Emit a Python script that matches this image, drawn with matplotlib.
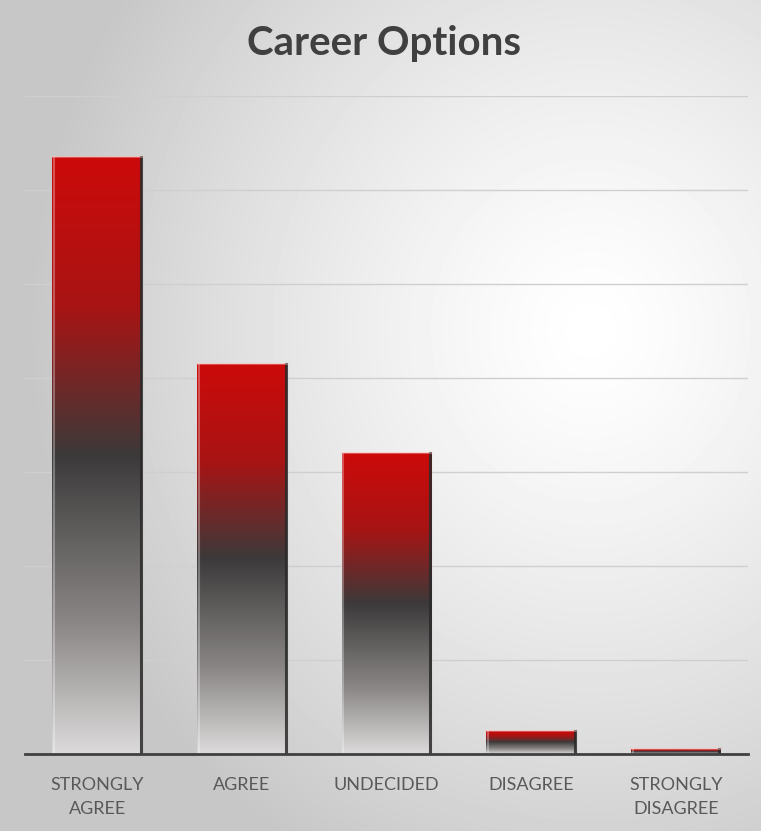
import matplotlib

matplotlib.use("Agg")
import matplotlib.pyplot as plt
import numpy as np
from matplotlib.colors import LinearSegmentedColormap

categories = ["STRONGLY\nAGREE", "AGREE", "UNDECIDED", "DISAGREE", "STRONGLY\nDISAGREE"]
responses = [127, 83, 64, 5, 1]
grid_step = 20
y_max = 140

# red top -> charcoal middle -> pale grey bottom
bar_cmap = LinearSegmentedColormap.from_list(
    "bar", [(0.0, "#cc0a0a"), (0.25, "#a81414"), (0.5, "#3c3a3a"), (0.78, "#8a8686"), (1.0, "#dcdada")]
)

fig = plt.figure(figsize=(7.61, 8.31), dpi=100)

# radial background, bright toward the right-middle
bg = fig.add_axes([0, 0, 1, 1], zorder=-10)
yy, xx = np.mgrid[0:831, 0:761]
r = np.hypot((xx - 590) / 520.0, (yy - 330) / 560.0)
shade = np.clip(1.0 - 0.20 * r ** 1.3, 0.78, 1.0)
bg.imshow(shade, cmap="gray", vmin=0, vmax=1, aspect="auto", extent=(0, 1, 0, 1))
bg.set_axis_off()

ax = fig.add_axes([25 / 761, 77 / 831, 723 / 761, 658 / 831])
ax.patch.set_alpha(0)
x = np.arange(len(categories))
bars = ax.bar(x, responses, width=0.62, color="none", zorder=3)

grad = np.linspace(0, 1, 256).reshape(-1, 1)
for rect in bars:
    x0, y0 = rect.get_x(), rect.get_y()
    w, h = rect.get_width(), rect.get_height()
    im = ax.imshow(grad, cmap=bar_cmap, aspect="auto", extent=(x0, x0 + w, y0, y0 + h),
                   origin="upper", zorder=3)
    im.set_clip_path(rect)
    # bevel: soft highlight on left, shadow on right
    ax.plot([x0 + 0.012, x0 + 0.012], [y0, y0 + h], color="white", alpha=0.3, lw=1.5, zorder=4)
    ax.plot([x0 + w - 0.008, x0 + w - 0.008], [y0, y0 + h], color="#2a2a2a", alpha=0.85, lw=2.2, zorder=4)
    ax.plot([x0, x0 + w], [y0 + h, y0 + h], color="#ffb0b0", alpha=0.5, lw=1.2, zorder=4)

ax.set_xlim(-0.5, len(categories) - 0.5)
ax.set_ylim(0, y_max)
ax.set_yticks(np.arange(grid_step, y_max + 1, grid_step))
ax.yaxis.grid(True, color="#cfcfcf", lw=1)
ax.set_axisbelow(True)
ax.tick_params(axis="y", left=False, labelleft=False)
ax.tick_params(axis="x", bottom=False, pad=13)
ax.set_xticks(x)
ax.set_xticklabels(categories, fontsize=13, color="#595959", family=["Lato", "DejaVu Sans"],
                   linespacing=1.6)
for side in ["top", "right", "left"]:
    ax.spines[side].set_visible(False)
ax.spines["bottom"].set_color("#404040")
ax.spines["bottom"].set_linewidth(2)
ax.spines["bottom"].set_zorder(5)

fig.text(384 / 761, 1 - 44 / 831, "Career Options", ha="center", va="center",
         fontsize=29, fontweight="bold", color="#404040", family=["Lato", "DejaVu Sans"])

fig.savefig("out.png", dpi=100)
